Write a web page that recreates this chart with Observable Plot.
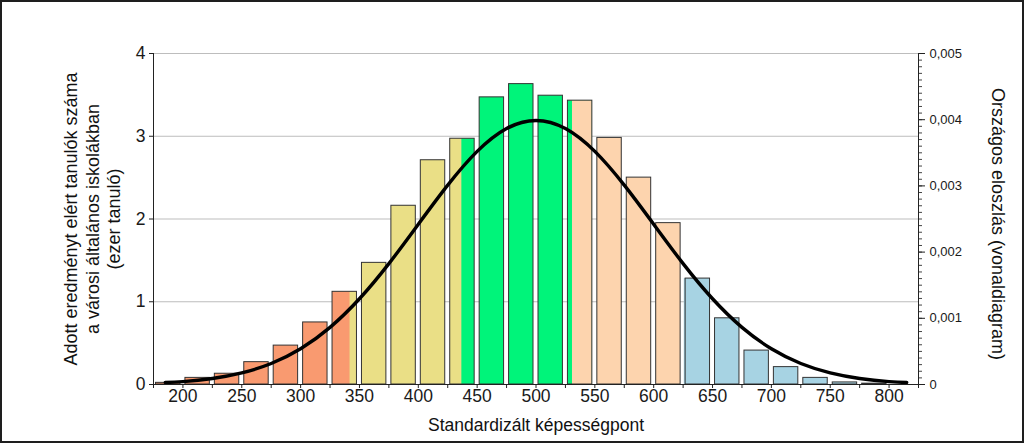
<!DOCTYPE html>
<html><head><meta charset="utf-8">
<script src="https://cdn.jsdelivr.net/npm/d3@7"></script>
<script src="https://cdn.jsdelivr.net/npm/@observablehq/plot@0.6"></script>
<style>
body{margin:0;background:#fff;}
#wrap{position:relative;width:1024px;height:443px;overflow:hidden;}
#border{position:absolute;left:0;top:0;width:1024px;height:443px;box-sizing:border-box;border:2px solid #1e1e1e;pointer-events:none;}
</style></head><body>
<div id="wrap"><div id="chart"></div><div id="border"></div></div>
<script>
// ---- data ----
const binStarts = [175,200,225,250,275,300,325,350,375,400,425,450,475,500,525,550,575,600,625,650,675,700,725,750,775];
const binWidth = 25;
const counts = [0.02,0.08,0.13,0.27,0.47,0.75,1.12,1.47,2.16,2.71,2.97,3.47,3.63,3.49,3.43,2.98,2.50,1.95,1.28,0.80,0.41,0.21,0.08,0.025,0.01];
const levelBounds = [175,342,437,531,626,825];
const levelColors = ["#F99A70","#EADF86","#00F47A","#FDD4AE","#A7D3E3"];
const curveScores = [185,200,225,250,275,300,325,350,375,400,425,450,475,500,525,550,575,600,625,650,675,700,725,750,775,800,815];
const curveDensity = [0.00003,0.000044,0.000091,0.000175,0.000317,0.00054,0.000863,0.001295,0.001826,0.00242,0.003011,0.003521,0.003867,0.003989,0.003867,0.003521,0.003011,0.00242,0.001826,0.001295,0.000863,0.00054,0.000317,0.000175,0.000091,0.000044,0.00003];
const xLabelTicks = [200,250,300,350,400,450,500,550,600,650,700,750,800];
const xMinorTicks = [175,200,225,250,275,300,325,350,375,400,425,450,475,500,525,550,575,600,625,650,675,700,725,750,775,800,825];
const leftTicks = [0,1,2,3,4];
const rightTicks = [0,0.001,0.002,0.003,0.004,0.005];
const xDomain = [175,825];
const leftMax = 4, rightMax = 0.005;
const yLabel = "Adott eredményt elért tanulók száma\na városi általános iskolákban\n(ezer tanuló)";
const y2Label = "Országos eloszlás (vonaldiagram)";
const xLabel = "Standardizált képességpont";

// ---- derived tables ----
const ratio = leftMax / rightMax;
const bins = binStarts.map((s,i) => {
  const lvl = levelBounds.findIndex((b,j) => j < levelBounds.length-1 && s >= b && s < levelBounds[j+1]);
  return {x1: s, x2: s + binWidth, y: counts[i], color: levelColors[lvl]};
});
const overlays = [];
bins.forEach(b => {
  levelBounds.forEach((lb, j) => {
    if (j > 0 && j < levelBounds.length-1 && lb > b.x1 && lb < b.x2) {
      overlays.push({x1: lb, x2: b.x2, y: b.y, color: levelColors[j]});
    }
  });
});
const curve = curveScores.map((s,i) => ({x: s, y: curveDensity[i] * ratio}));
const minorRight = d3.range(0, 51).map(i => i * rightMax / 50 * ratio);
const fmtRight = v => { const r = v / ratio; return Math.abs(r) < 1e-12 ? "0" : r.toFixed(3).replace(".", ","); };

const font = '"Liberation Sans", Arial, sans-serif';
const chart = Plot.plot({
  width: 1024, height: 443,
  marginLeft: 153, marginRight: 106, marginTop: 53, marginBottom: 59,
  style: {fontFamily: font, fontSize: "16px", color: "#1a1a1a", background: "#fff"},
  x: {domain: xDomain},
  y: {domain: [0, leftMax]},
  marks: [
    Plot.gridY(leftTicks.slice(1), {stroke: "#bdbdbd", strokeOpacity: 1}),
    Plot.rectY(bins, {x1: "x1", x2: "x2", y: "y", fill: "color", insetLeft: 2.5, insetRight: 2.5}),
    Plot.rectY(overlays, {x1: "x1", x2: "x2", y: "y", fill: "color", insetRight: 2.5}),
    Plot.rectY(bins, {x1: "x1", x2: "x2", y: "y", fill: "none", stroke: "#333", strokeWidth: 1, insetLeft: 2.5, insetRight: 2.5}),
    Plot.line(curve, {x: "x", y: "y", curve: "natural", stroke: "#000", strokeWidth: 3.4}),
    Plot.ruleY([0], {stroke: "#222"}),
    Plot.ruleX([xDomain[0]], {y1: 0, y2: leftMax, stroke: "#222"}),
    Plot.ruleX([xDomain[1]], {y1: 0, y2: leftMax, stroke: "#222"}),
    Plot.axisX({ticks: xMinorTicks, tickSize: 4, tickFormat: () => "", label: null, stroke: "#222"}),
    Plot.axisX({ticks: xLabelTicks, tickSize: 0, tickPadding: 5, fontSize: 17.5, label: null}),
    Plot.axisY({ticks: leftTicks, tickSize: 4, tickPadding: 4, tickFormat: d => String(d), fontSize: 17.5, label: null, stroke: "#222"}),
    Plot.axisY({anchor: "right", ticks: minorRight, tickSize: 3, tickFormat: () => "", label: null, stroke: "#444"}),
    Plot.axisY({anchor: "right", ticks: rightTicks.map(v => v * ratio), tickSize: 6, tickPadding: 5, tickFormat: fmtRight, fontSize: 13, label: null, stroke: "#222"}),
    Plot.text([yLabel], {text: d => d, frameAnchor: "left", textAnchor: "middle", lineAnchor: "middle", rotate: -90, dx: -62, dy: 0, fontSize: 18, lineHeight: 1.22, fill: "#111"}),
    Plot.text([y2Label], {text: d => d, frameAnchor: "right", textAnchor: "middle", lineAnchor: "middle", rotate: 90, dx: 79, dy: 5, fontSize: 18, fill: "#111"}),
    Plot.text([xLabel], {text: d => d, frameAnchor: "bottom", dy: 46, fontSize: 17.5, fill: "#111"})
  ]
});
document.getElementById("chart").appendChild(chart);
</script>
</body></html>
